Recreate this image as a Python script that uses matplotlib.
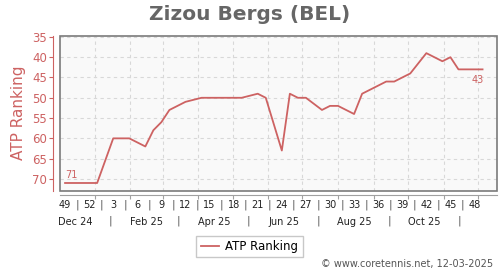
import datetime as dt
import matplotlib
matplotlib.use("Agg")
import matplotlib.pyplot as plt
import matplotlib.dates as mdates
from matplotlib.patches import Rectangle
from matplotlib.transforms import blended_transform_factory

# ---- data ----
title = "Zizou Bergs (BEL)"
series_name = "ATP Ranking"
first_date = dt.date(2024, 12, 6)
week_idx = [0, 1, 2, 3, 4, 6, 7, 8, 9, 10, 11, 12, 13, 14, 15, 17, 18, 19, 20, 21, 22,
            24, 25, 27, 28, 29, 30, 32, 33, 34, 35, 36, 37, 38, 39, 40, 41, 42, 43,
            45, 46, 47, 48, 49, 50, 51, 52]
ranks = [71, 71, 71, 71, 71, 60, 60, 60, 61, 62, 58, 56, 53, 52, 51, 50, 50, 50, 50, 50, 50,
         49, 50, 63, 49, 50, 50, 53, 52, 52, 53, 54, 49, 48, 47, 46, 46, 45, 44,
         39, 40, 41, 40, 43, 43, 43, 43]
week_tick_idx = list(range(0, 52, 3))
week_labels = ["49", "52", "3", "6", "9", "12", "15", "18", "21", "24", "27", "30",
               "33", "36", "39", "42", "45", "48"]
month_labels = ["Dec 24", "Feb 25", "Apr 25", "Jun 25", "Aug 25", "Oct 25"]
month_label_dates = [dt.date(2024, 12, 15), dt.date(2025, 2, 15), dt.date(2025, 4, 15),
                     dt.date(2025, 6, 15), dt.date(2025, 8, 15), dt.date(2025, 10, 15)]
month_sep_dates = [dt.date(2025, 1, 15), dt.date(2025, 3, 15), dt.date(2025, 5, 15),
                   dt.date(2025, 7, 15), dt.date(2025, 9, 15), dt.date(2025, 11, 15)]
y_ticks = [35, 40, 45, 50, 55, 60, 65, 70]
footer = "\u00a9 www.coretennis.net, 12-03-2025"

RED = "#cd6262"
W, H = 500, 270

dates = [first_date + dt.timedelta(weeks=w) for w in week_idx]
week_tick_dates = [first_date + dt.timedelta(weeks=w) for w in week_tick_idx]
xmin = mdates.date2num(first_date) - 4.4
xmax = mdates.date2num(first_date) + 376.6

fig = plt.figure(figsize=(W / 100, H / 100), dpi=100)
fig.patch.set_facecolor("white")

# main plot area
ax = fig.add_axes([60 / W, (H - 190.7) / H, 437 / W, 155 / H])
ax.set_facecolor("#f9f9f9")
ax.plot(dates, ranks, color=RED, lw=1.3, label=series_name, zorder=3)
ax.set_xlim(xmin, xmax)
ax.set_ylim(72.9, 34.7)
ax.set_yticks(y_ticks)
ax.xaxis.set_major_locator(mdates.MonthLocator(bymonthday=1))
ax.tick_params(axis="x", bottom=False, labelbottom=False)
ax.grid(True, color="#d8d8d8", ls=(0, (3, 3)), lw=0.8)
for s in ["top", "right", "bottom"]:
    ax.spines[s].set_visible(False)
ax.spines["left"].set_position(("outward", 5))
ax.spines["left"].set_color(RED)
ax.spines["left"].set_linewidth(0.8)
ax.tick_params(axis="y", colors=RED, length=3, width=0.8, pad=1.5, labelsize=8.5)
ax.add_patch(Rectangle((0, 0), 1, 1, transform=ax.transAxes, fill=False,
                       edgecolor="#7a7a7a", lw=1.2, clip_on=False, zorder=5))
ax.set_ylabel(series_name, color=RED, fontsize=11, labelpad=4)

# end annotations
ax.annotate(str(ranks[0]), (dates[0], ranks[0]), xytext=(0, 2), textcoords="offset points",
            ha="left", va="bottom", color=RED, fontsize=7)
ax.annotate(str(ranks[-1]), (dates[-1], ranks[-1]), xytext=(1, -4), textcoords="offset points",
            ha="right", va="top", color=RED, fontsize=7)

# secondary x axis line with week labels
ax2 = fig.add_axes([60 / W, (H - 195) / H, 437 / W, 0.0001])
ax2.set_xlim(xmin, xmax)
ax2.set_yticks([])
ax2.patch.set_visible(False)
for s in ["top", "right", "left"]:
    ax2.spines[s].set_visible(False)
ax2.spines["bottom"].set_color("#a0a0a0")
ax2.spines["bottom"].set_linewidth(0.8)
ax2.xaxis.set_minor_locator(mdates.MonthLocator(bymonthday=1))
ax2.set_xticks([])
ax2.tick_params(axis="x", which="minor", length=3, width=0.8, color="#a0a0a0")

btr = blended_transform_factory(ax2.transData, fig.transFigure)
for d, lab in zip(week_tick_dates, week_labels):
    fig.text(mdates.date2num(d), (H - 204.2) / H, lab, transform=btr, ha="center",
             va="center_baseline", fontsize=7, color="#222222")
for i in range(len(week_tick_dates) - 1):
    xm = (mdates.date2num(week_tick_dates[i]) + mdates.date2num(week_tick_dates[i + 1])) / 2
    fig.text(xm, (H - 204.8) / H, "|", transform=btr, ha="center", va="center",
             fontsize=8, color="#555555")
for d, lab in zip(month_label_dates, month_labels):
    fig.text(mdates.date2num(d), (H - 220.7) / H, lab, transform=btr, ha="center",
             va="center_baseline", fontsize=7, color="#222222")
for d in month_sep_dates:
    fig.text(mdates.date2num(d), (H - 220.5) / H, "|", transform=btr, ha="center",
             va="center", fontsize=8, color="#555555")

# title
fig.text(0.5, (H - 14) / H, title, ha="center", va="center", fontsize=14.5,
         fontweight="bold", color="#666666")

# legend
fig.legend(handles=ax.get_lines()[:1], labels=[series_name], loc="center",
           bbox_to_anchor=(249.5 / W, (H - 246.5) / H), frameon=True, fancybox=False,
           edgecolor="#bbbbbb", fontsize=8.5, handlelength=1.6, handletextpad=0.5,
           borderpad=0.35, borderaxespad=0)

# footer
fig.text(493 / W, (H - 264) / H, footer, ha="right", va="center", fontsize=7,
         color="#555555")

fig.savefig("out.png", dpi=100)
